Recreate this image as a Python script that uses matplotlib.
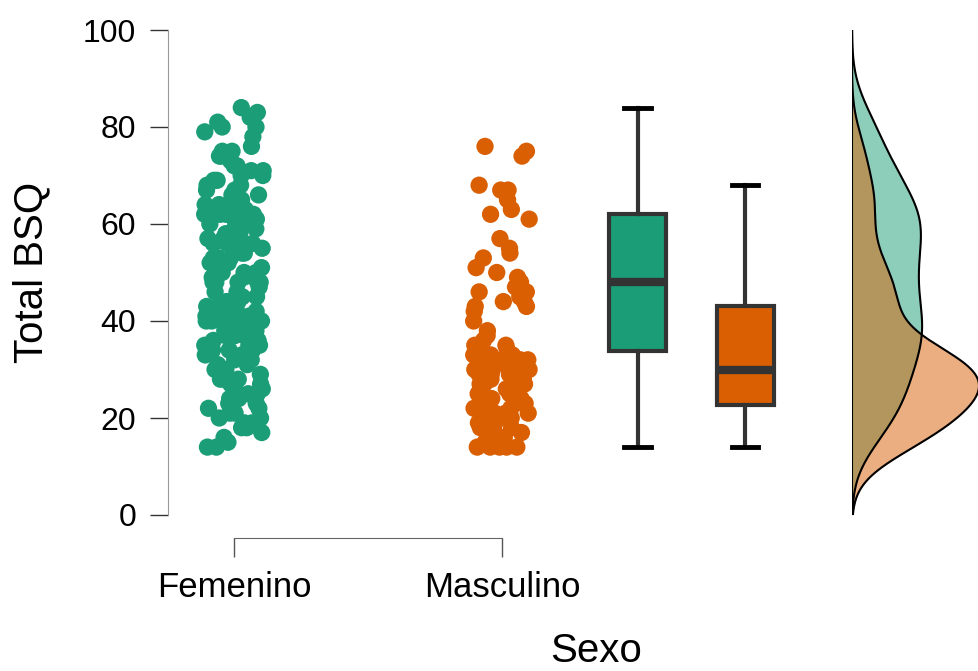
import numpy as np
import matplotlib.pyplot as plt

plt.rcParams['font.family'] = ['Liberation Sans', 'DejaVu Sans']

groups = ["Femenino", "Masculino"]
colors = ["#1b9e77", "#d95f02"]

femenino = [
    84, 83, 82, 81, 80, 80, 79, 78, 76, 75, 75, 74, 74, 73, 72, 72, 71, 71, 70, 70,
    69, 69, 68, 68, 67, 67, 66, 66, 65, 65, 64, 64, 64, 63, 63, 63, 62, 62, 62, 62,
    62, 61, 61, 60, 60, 60, 60, 59, 59, 59, 58, 58, 57, 57, 57, 56, 56, 56, 55, 55,
    55, 54, 54, 53, 53, 53, 52, 52, 51, 51, 50, 50, 50, 49, 49, 49, 48, 48, 48, 48,
    48, 47, 46, 46, 45, 45, 44, 44, 44, 43, 43, 42, 42, 42, 41, 41, 41, 40, 40, 40,
    40, 39, 39, 39, 38, 38, 38, 37, 37, 37, 36, 36, 36, 35, 35, 35, 34, 34, 34, 34,
    33, 33, 32, 32, 31, 31, 30, 30, 30, 29, 29, 28, 28, 28, 27, 27, 26, 26, 25, 25,
    25, 24, 24, 23, 23, 22, 22, 21, 21, 20, 20, 19, 19, 18, 18, 17, 16, 15, 14, 14,
]

masculino = [
    76, 75, 74, 68, 67, 67, 65, 63, 62, 61, 57, 55, 54, 53, 51, 50, 49,
    48, 47, 46, 46, 45, 44, 44, 43,
    43, 42, 40, 38, 37, 36, 35, 35, 34, 34, 33, 33, 33, 32, 32, 32, 31, 31, 31, 31,
    30, 30, 30, 30, 30, 30,
    29, 29, 29, 28, 28, 28, 28, 27, 27, 27, 27, 26, 26, 26, 25, 25, 25, 24, 24, 24,
    23, 23, 23, 23,
    22, 22, 22, 21, 21, 21, 20, 20, 20, 19, 19, 18, 18, 17, 17, 16, 16, 15, 15, 15,
    14, 14, 14, 14, 14,
]

data = [np.array(femenino, float), np.array(masculino, float)]

fig = plt.figure(figsize=(9.79, 6.71), dpi=100)
W, H = 979, 671

# main panel: jittered points + boxplots
ax = fig.add_axes([168 / W, 156 / H, (800 - 168) / W, 485 / H])
ax.set_ylim(0, 100)
ax.set_xlim(0.754, 3.112)

rng = np.random.default_rng(7)
for i, (vals, c) in enumerate(zip(data, colors)):
    x = i + 1 + rng.uniform(-0.11, 0.11, size=len(vals))
    ax.scatter(x, vals, s=155, color=c, edgecolors='none', zorder=3)

box_pos = [2.507, 2.907]
bp = ax.boxplot(data, positions=box_pos, widths=0.213, capwidths=0.1,
                showfliers=False, patch_artist=True, manage_ticks=False,
                boxprops=dict(edgecolor='#333333', linewidth=3),
                whiskerprops=dict(color='#333333', linewidth=3),
                capprops=dict(color='black', linewidth=3.5),
                medianprops=dict(color='#333333', linewidth=6))
for patch, c in zip(bp['boxes'], colors):
    patch.set_facecolor(c)

for side in ['top', 'right']:
    ax.spines[side].set_visible(False)
ax.spines['left'].set_bounds(0, 100)
ax.spines['left'].set_color('#999999')
ax.spines['bottom'].set_bounds(1, 2)
ax.spines['bottom'].set_position(('outward', 16.5))
ax.spines['bottom'].set_color('#666666')

ax.set_yticks([0, 20, 40, 60, 80, 100])
ax.set_xticks([1, 2])
ax.set_xticklabels(groups)
ax.tick_params(axis='y', length=13, width=1, color='#333333', pad=10, labelsize=23)
ax.tick_params(axis='x', length=13.5, width=1, color='#555555', pad=10, labelsize=25)

# density panel (half violins)
axd = fig.add_axes([852 / W, 156 / H, 127 / W, 485 / H])
axd.set_ylim(0, 100)
axd.axis('off')

grid = np.linspace(0, 100, 500)
dens = []
for vals in data:
    n = len(vals)
    iqr = np.subtract(*np.percentile(vals, [75, 25]))
    bw = 0.9 * min(vals.std(ddof=1), iqr / 1.34) * n ** -0.2
    d = np.exp(-0.5 * ((grid[:, None] - vals[None, :]) / bw) ** 2).sum(1)
    dens.append(d / (n * bw * np.sqrt(2 * np.pi)))

for d, c in zip(dens, colors):
    axd.fill_betweenx(grid, 0, d, color=c, alpha=0.5, lw=0)
    axd.plot(d, grid, color='black', lw=1.5)
axd.plot([0, 0], [0, 100], color='black', lw=1.5)
axd.set_xlim(0, max(d.max() for d in dens))

fig.text(31 / W, 1 - 272 / H, "Total BSQ", rotation=90, ha='center', va='center',
         fontsize=29)
fig.text(596 / W, 1 - 662 / H, "Sexo", ha='center', va='baseline', fontsize=29)

fig.savefig("out.png", dpi=100)
